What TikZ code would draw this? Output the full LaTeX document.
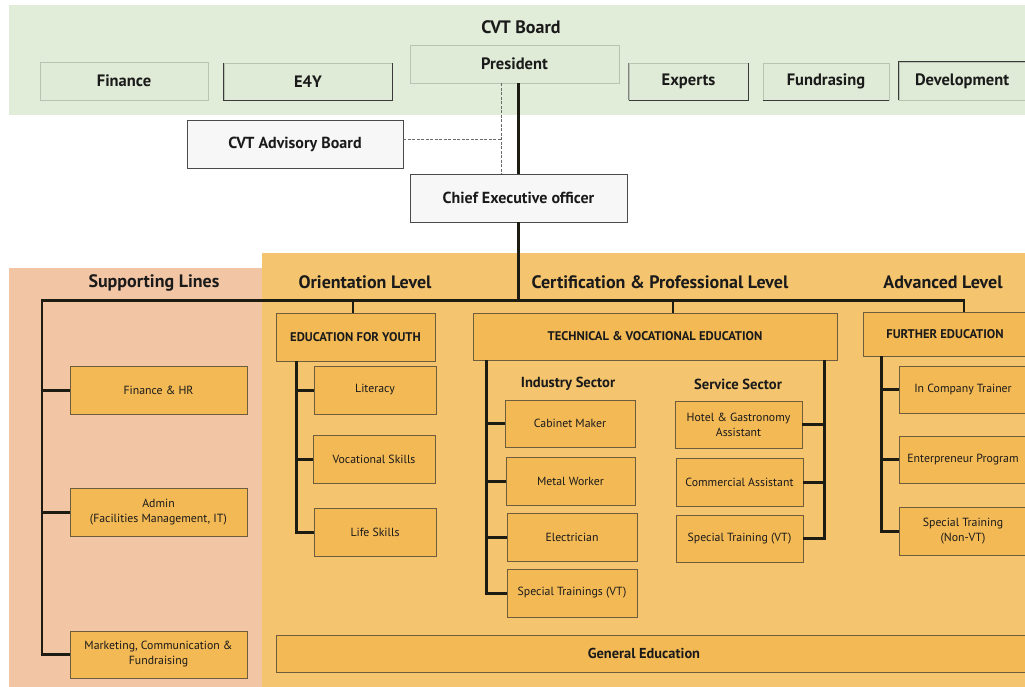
\documentclass[tikz,border=0pt]{standalone}
\usepackage{fontspec}
\setmainfont{PT Sans}
\definecolor{bandg}{HTML}{E1EDD9}
\definecolor{tbf}{HTML}{DFEBD6}
\definecolor{tbl}{HTML}{B9C3B2}
\definecolor{dkc}{HTML}{3A3A3A}
\definecolor{wbf}{HTML}{F7F7F7}
\definecolor{wbd}{HTML}{4A4A4A}
\definecolor{pinkbg}{HTML}{F2C6A5}
\definecolor{orbg}{HTML}{F4C46E}
\definecolor{obf}{HTML}{F3B955}
\definecolor{obd}{HTML}{6E5C3E}
\definecolor{linec}{HTML}{1C1C12}
\definecolor{dshc}{HTML}{6A6A6A}
\definecolor{txtc}{HTML}{1A1A1A}
\begin{document}
\begin{tikzpicture}[x=1pt,y=-1pt,
  every node/.style={text=txtc},
  tb/.style={draw=tbl, line width=0.8pt, fill=tbf, font=\bfseries\fontsize{16.5}{18}\selectfont, inner sep=0pt},
  dk/.style={draw=dkc, line width=1pt},
  wb/.style={draw=wbd, line width=0.9pt, fill=wbf, font=\bfseries\fontsize{16}{18}\selectfont, inner sep=0pt},
  ob/.style={draw=obd, line width=0.8pt, fill=obf, font=\fontsize{11.8}{15}\selectfont, align=center, inner sep=0pt},
  hb/.style={ob, font=\bfseries\fontsize{12.6}{14}\selectfont},
  ttl/.style={font=\bfseries\fontsize{18}{21}\selectfont},
  sec/.style={font=\bfseries\fontsize{14.6}{17}\selectfont},
  con/.style={draw=linec, line width=3pt},
  mainl/.style={draw=linec, line width=2.6pt},
  dsh/.style={draw=dshc, line width=0.8pt, dash pattern=on 3pt off 1.5pt}
]
\useasboundingbox (0,0) rectangle (1025,687);
% backgrounds
\fill[bandg] (9,5) rectangle (1025,115);
\fill[pinkbg] (9,268) rectangle (262,687);
\fill[orbg] (262,253) rectangle (1025,687);

% board
\node[ttl] (board) at (521,27) {CVT Board};
\node[tb, minimum width=168pt, minimum height=38pt] (fin) at (124,81) {Finance};
\node[tb, minimum width=168pt, minimum height=37pt] (e4y) at (308,81.5) {E4Y};
\node[tb, minimum width=209pt, minimum height=38pt] (pres) at (514.5,64) {President};
\node[tb, minimum width=119pt, minimum height=37pt] (exp) at (688.5,81.5) {Experts};
\node[tb, minimum width=126pt, minimum height=37pt] (fund) at (826,81.5) {Fundrasing};
\node[tb, minimum width=126pt, minimum height=38pt] (dev) at (962,81) {Development};
\draw[dk] (e4y.north west) -- (e4y.south west) -- (e4y.south east) -- (e4y.north east);
\draw[dk] (exp.south west) -- (exp.south east) -- (exp.north east);
\draw[draw=gray, line width=0.8pt] (exp.south west) -- (exp.north west);
\draw[dk] (fund.south west) -- (fund.south east);
\draw[dk] (dev.south west) -- (dev.north west) -- (dev.north east);

% advisory and CEO
\node[wb, minimum width=216pt, minimum height=48pt] (adv) at (295,144) {CVT Advisory Board};
\node[wb, minimum width=217pt, minimum height=48pt] (ceo) at (518.5,198) {Chief Executive officer};
\coordinate (dj) at (501,139.5);
\draw[dsh] (adv.east |- dj) -- (dj);
\draw[dsh] (dj |- pres.south) -- (dj |- ceo.north);
\draw[mainl] (ceo.north |- pres.south) -- (ceo.north);

% section titles
\node[ttl] (tsup) at (154,283) {Supporting Lines};
\node[ttl] (tori) at (365,282) {Orientation Level};
\node[ttl] (tcert) at (660,282) {Certification \& Professional Level};
\node[ttl] (tadv) at (943,282) {Advanced Level};

% supporting lines
\node[ob, minimum width=177pt, minimum height=48pt] (finhr) at (158.5,390) {Finance \& HR};
\node[ob, minimum width=177pt, minimum height=48pt] (admin) at (158.5,512) {Admin\\(Facilities Management, IT)};
\node[ob, minimum width=177pt, minimum height=47pt] (mkt) at (158.5,654.5) {Marketing, Communication \&\\Fundraising};

% orientation
\node[hb, minimum width=159pt, minimum height=48pt] (efy) at (355.5,337) {EDUCATION FOR YOUTH};
\node[ob, minimum width=122pt, minimum height=48pt] (lit) at (375,390) {Literacy};
\node[ob, minimum width=122pt, minimum height=48pt] (voc) at (374,459) {Vocational Skills};
\node[ob, minimum width=122pt, minimum height=48pt] (life) at (375,532) {Life Skills};

% certification
\node[hb, minimum width=364pt, minimum height=47pt] (tve) at (655,336.5) {TECHNICAL \& VOCATIONAL EDUCATION};
\node[sec] (ind) at (568,384) {Industry Sector};
\node[sec] (srv) at (738,384) {Service Sector};
\node[ob, minimum width=130pt, minimum height=47pt] (cab) at (570,423.5) {Cabinet Maker};
\node[ob, minimum width=129pt, minimum height=48pt] (met) at (570.5,481) {Metal Worker};
\node[ob, minimum width=130pt, minimum height=48pt] (ele) at (572,537) {Electrician};
\node[ob, minimum width=130pt, minimum height=48pt] (stv) at (572,593) {Special Trainings (VT)};
\node[ob, minimum width=127pt, minimum height=47pt] (hot) at (738.5,424.5) {Hotel \& Gastronomy\\Assistant};
\node[ob, minimum width=127pt, minimum height=48pt] (com) at (739.5,482) {Commercial Assistant};
\node[ob, minimum width=127pt, minimum height=47pt] (st2) at (739.5,538.5) {Special Training (VT)};

% advanced
\node[hb, minimum width=164pt, minimum height=44pt] (fe) at (945,334) {FURTHER EDUCATION};
\node[ob, minimum width=128pt, minimum height=47pt] (ict) at (963,389.5) {In Company Trainer};
\node[ob, minimum width=128pt, minimum height=47pt] (ent) at (963,459.5) {Enterpreneur Program};
\node[ob, minimum width=128pt, minimum height=48pt] (stn) at (963,531) {Special Training\\(Non-VT)};

% general education
\node[ob, font=\bfseries\fontsize{14.4}{16}\selectfont, minimum width=752pt, minimum height=37pt] (gen) at (652,653.5) {\hspace*{-16pt}General Education};

% main connectors
\coordinate (ml) at (42,300.5);
\coordinate (mr) at (964,300.5);
\coordinate (ej) at (353,300.5);
\coordinate (tj) at (673,300.5);
\draw[mainl] (ceo.south) -- (ceo.south |- ml);
\draw[mainl, line join=miter] (mkt.west) -| (ml) -- (mr) -- (mr |- fe.north);
\draw[mainl] (ej) -- (ej |- efy.north);
\draw[mainl] (tj) -- (tj |- tve.north);
\draw[con] (finhr.west) -- (ml |- finhr.west);
\draw[con] (admin.west) -- (ml |- admin.west);

% orientation connectors
\coordinate (eL) at (296,361);
\draw[con, line join=miter] (eL) |- (life.west);
\draw[con] (eL |- lit.west) -- (lit.west);
\draw[con] (eL |- voc.west) -- (voc.west);

% TVE connectors
\coordinate (tL) at (486.5,360);
\coordinate (tR) at (824,360);
\draw[con, line join=miter] (tL) |- (stv.west);
\draw[con] (tL |- cab.west) -- (cab.west);
\draw[con] (tL |- met.west) -- (met.west);
\draw[con] (tL |- ele.west) -- (ele.west);
\draw[con, line join=miter] (tR) |- (st2.east);
\draw[con] (tR |- hot.east) -- (hot.east);
\draw[con] (tR |- com.east) -- (com.east);

% FE connectors
\coordinate (fL) at (881,356);
\draw[con, line join=miter] (fL) |- (stn.west);
\draw[con] (fL |- ict.west) -- (ict.west);
\draw[con] (fL |- ent.west) -- (ent.west);
\end{tikzpicture}
\end{document}
